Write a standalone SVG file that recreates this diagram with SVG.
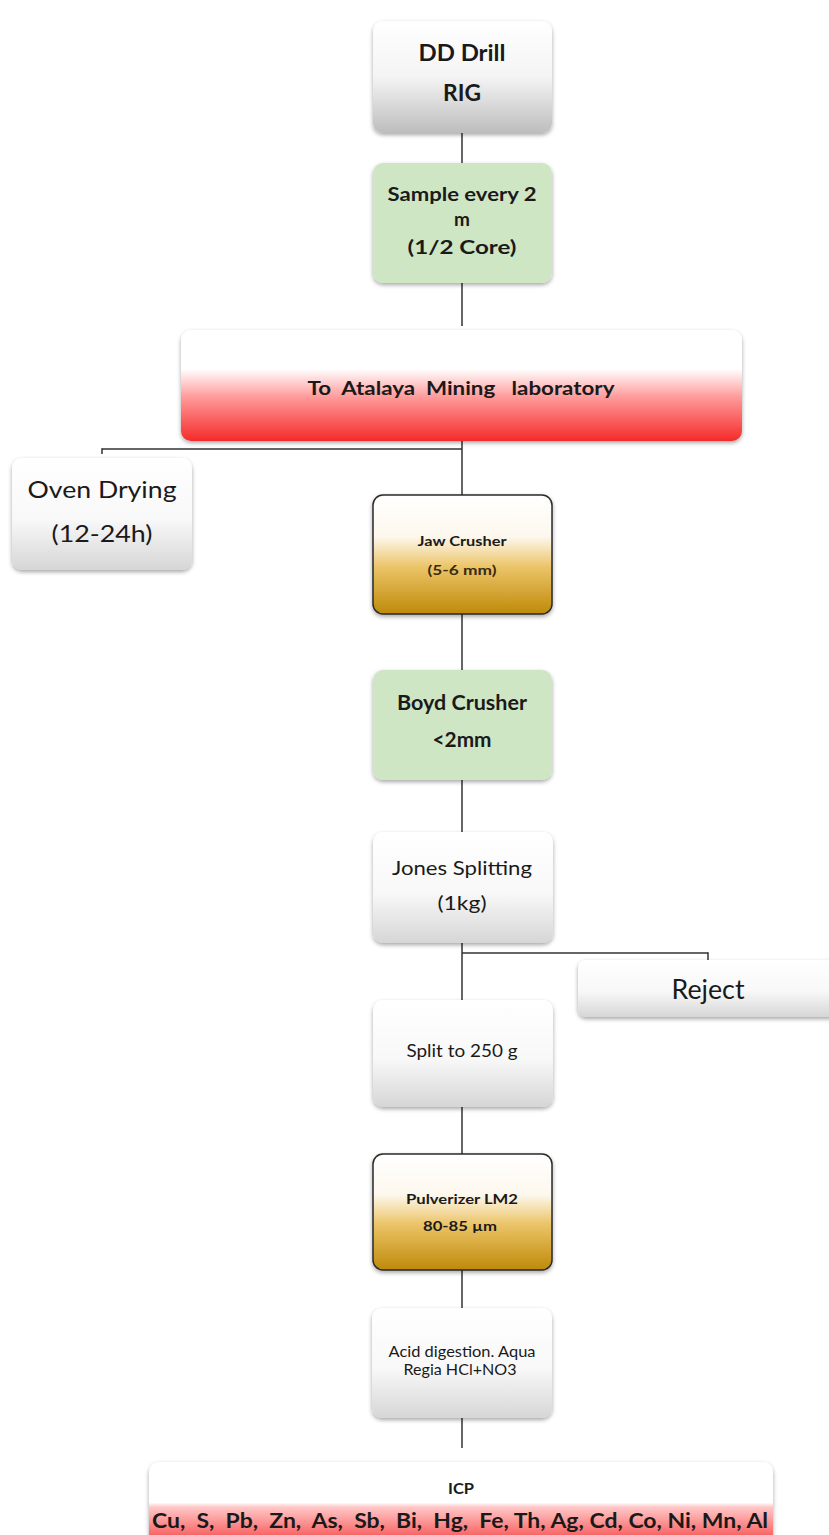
<svg xmlns="http://www.w3.org/2000/svg" width="829" height="1535" viewBox="0 0 829 1535">
<style>
text{font-family:Lato,"Open Sans","Liberation Sans",sans-serif;fill:#1a1a1a;text-anchor:middle;white-space:pre}
.b{font-weight:bold}
.conn line{stroke:#333;stroke-width:1.5}
</style>
<defs>
<filter id="sh" x="-10%" y="-10%" width="120%" height="130%">
<feDropShadow dx="0" dy="2" stdDeviation="2" flood-color="#000" flood-opacity="0.35"/>
</filter>
<linearGradient id="gray" x1="0" y1="0" x2="0" y2="1">
<stop offset="0" stop-color="#ffffff"/><stop offset="0.55" stop-color="#f8f8f8"/><stop offset="1" stop-color="#d6d6d6"/>
</linearGradient>
<linearGradient id="gray2" x1="0" y1="0" x2="0" y2="1">
<stop offset="0" stop-color="#ffffff"/><stop offset="0.5" stop-color="#f4f4f4"/><stop offset="1" stop-color="#bdbdbd"/>
</linearGradient>
<linearGradient id="gold" x1="0" y1="0" x2="0" y2="1">
<stop offset="0" stop-color="#ffffff"/><stop offset="0.35" stop-color="#fdf8ee"/><stop offset="0.6" stop-color="#ecc56a"/><stop offset="1" stop-color="#bf8a08"/>
</linearGradient>
<linearGradient id="red" x1="0" y1="0" x2="0" y2="1">
<stop offset="0" stop-color="#ffffff"/><stop offset="0.35" stop-color="#ffffff"/><stop offset="0.6" stop-color="#ff9c9c"/><stop offset="1" stop-color="#f52a2a"/>
</linearGradient>
<linearGradient id="red2" x1="0" y1="0" x2="0" y2="1">
<stop offset="0" stop-color="#ffffff"/><stop offset="0.45" stop-color="#ffffff"/><stop offset="0.5" stop-color="#ffc8c8"/><stop offset="1" stop-color="#f52a2a"/>
</linearGradient>
</defs>

<g class="conn" id="connectors">
<line x1="462" y1="133" x2="462" y2="163"/>
<line x1="462" y1="283" x2="462" y2="326"/>
<line x1="462" y1="440" x2="462" y2="495"/>
<line x1="102" y1="449" x2="462" y2="449"/>
<line x1="102" y1="448.3" x2="102" y2="454"/>
<line x1="462" y1="614" x2="462" y2="670"/>
<line x1="462" y1="780" x2="462" y2="832"/>
<line x1="462" y1="943" x2="462" y2="1000"/>
<line x1="462" y1="953" x2="708" y2="953"/>
<line x1="708" y1="952.3" x2="708" y2="960"/>
<line x1="462" y1="1107" x2="462" y2="1154"/>
<line x1="462" y1="1270" x2="462" y2="1308"/>
<line x1="462" y1="1418" x2="462" y2="1448"/>
</g>

<g id="dd-drill">
<rect x="373" y="21" width="179" height="112" rx="10" fill="url(#gray2)" filter="url(#sh)"/>
<text class="b" x="462" y="61" font-size="22" textLength="87" lengthAdjust="spacingAndGlyphs">DD Drill</text>
<text class="b" x="462" y="101" font-size="22" textLength="38" lengthAdjust="spacingAndGlyphs">RIG</text>
</g>

<g id="sample">
<rect x="373" y="163" width="179" height="120" rx="10" fill="#cfe6c4" filter="url(#sh)"/>
<text class="b" x="462" y="201" font-size="19" textLength="149" lengthAdjust="spacingAndGlyphs">Sample every 2</text>
<text class="b" x="462" y="226" font-size="19">m</text>
<text class="b" x="462" y="254" font-size="19" textLength="109" lengthAdjust="spacingAndGlyphs">(1/2 Core)</text>
</g>

<g id="lab">
<rect x="181" y="330" width="561" height="111" rx="10" fill="url(#red)" filter="url(#sh)"/>
<text class="b" x="461" y="395" font-size="18" textLength="307" lengthAdjust="spacingAndGlyphs">To  Atalaya  Mining   laboratory</text>
</g>

<g id="oven">
<rect x="12" y="458" width="180" height="112" rx="10" fill="url(#gray)" filter="url(#sh)"/>
<text x="102" y="498" font-size="24" textLength="149" lengthAdjust="spacingAndGlyphs">Oven Drying</text>
<text x="102" y="542" font-size="24" textLength="101" lengthAdjust="spacingAndGlyphs">(12-24h)</text>
</g>

<g id="jaw">
<rect x="373" y="495" width="179" height="119" rx="10" fill="url(#gold)" stroke="#2a2a2a" stroke-width="1.5" filter="url(#sh)"/>
<text class="b" x="462" y="546" font-size="14" textLength="89" lengthAdjust="spacingAndGlyphs">Jaw Crusher</text>
<text class="b" x="462" y="575" font-size="14" textLength="69" lengthAdjust="spacingAndGlyphs" style="fill:#3a2a10">(5-6 mm)</text>
</g>

<g id="boyd">
<rect x="373" y="670" width="179" height="110" rx="10" fill="#cfe6c4" filter="url(#sh)"/>
<text class="b" x="462" y="710" font-size="20" textLength="130" lengthAdjust="spacingAndGlyphs">Boyd Crusher</text>
<text class="b" x="462" y="747" font-size="20" textLength="59" lengthAdjust="spacingAndGlyphs">&lt;2mm</text>
</g>

<g id="jones">
<rect x="373" y="832" width="180" height="111" rx="10" fill="url(#gray)" filter="url(#sh)"/>
<text x="462" y="875" font-size="20" textLength="140" lengthAdjust="spacingAndGlyphs">Jones Splitting</text>
<text x="462" y="910" font-size="20" textLength="49" lengthAdjust="spacingAndGlyphs">(1kg)</text>
</g>

<g id="reject">
<rect x="578" y="960" width="270" height="57" rx="8" fill="url(#gray)" filter="url(#sh)"/>
<text x="708" y="999" font-size="26" textLength="73" lengthAdjust="spacingAndGlyphs">Reject</text>
</g>

<g id="split">
<rect x="373" y="1000" width="180" height="107" rx="10" fill="url(#gray)" filter="url(#sh)"/>
<text x="462" y="1057" font-size="18" textLength="111" lengthAdjust="spacingAndGlyphs">Split to 250 g</text>
</g>

<g id="pulverizer">
<rect x="373" y="1154" width="179" height="116" rx="10" fill="url(#gold)" stroke="#2a2a2a" stroke-width="1.5" filter="url(#sh)"/>
<text class="b" x="462" y="1204" font-size="14" textLength="112" lengthAdjust="spacingAndGlyphs">Pulverizer LM2</text>
<text class="b" x="460" y="1231" font-size="14" textLength="74" lengthAdjust="spacingAndGlyphs">80-85 µm</text>
</g>

<g id="acid">
<rect x="372" y="1308" width="180" height="110" rx="10" fill="url(#gray)" filter="url(#sh)"/>
<text x="462" y="1357" font-size="15" textLength="147" lengthAdjust="spacingAndGlyphs">Acid digestion. Aqua</text>
<text x="460" y="1375" font-size="15" textLength="113" lengthAdjust="spacingAndGlyphs">Regia HCl+NO3</text>
</g>

<g id="icp">
<rect x="149" y="1462" width="624" height="90" rx="10" fill="url(#red2)" filter="url(#sh)"/>
<text class="b" x="461" y="1494" font-size="15" textLength="26" lengthAdjust="spacingAndGlyphs">ICP</text>
<text class="b" x="460" y="1528" font-size="21" textLength="616" lengthAdjust="spacingAndGlyphs">Cu,  S,  Pb,  Zn,  As,  Sb,  Bi,  Hg,  Fe, Th, Ag, Cd, Co, Ni, Mn, Al</text>
</g>
</svg>
